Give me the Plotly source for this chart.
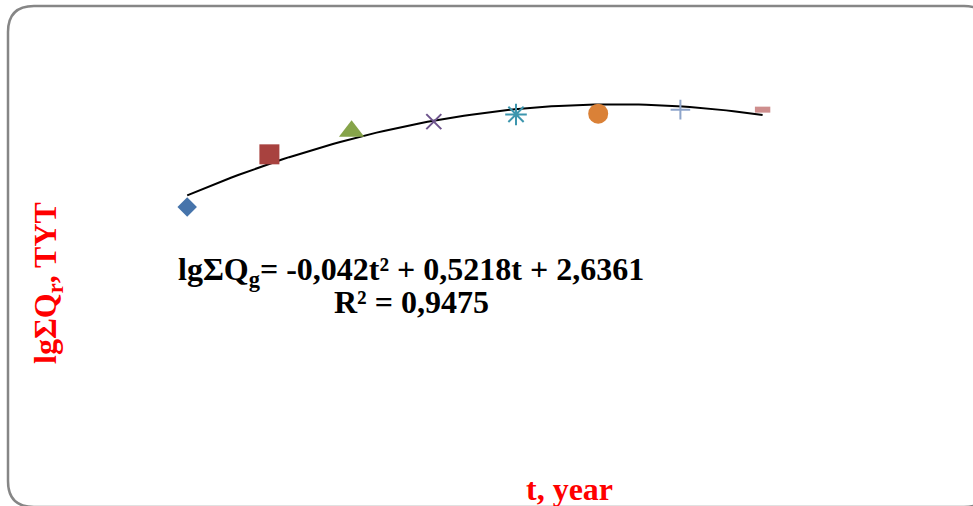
import plotly.graph_objects as go

# Data
t_years = [1, 2, 3, 4, 5, 6, 7, 8]
lg_q = [2.97, 3.63, 3.92, 4.04, 4.13, 4.14, 4.19, 4.19]
symbols = ["diamond", "square", "triangle-up", "x-thin-open", "asterisk-open",
           "circle", "cross-thin-open", "line-ew-open"]
colors = ["#4674AB", "#A8423F", "#86A44A", "#6E548D", "#3D96AE",
          "#DA8137", "#8EA5CB", "#CE8E8D"]
sizes = [15, 20, 22, 15, 18, 20, 14, 11]
line_widths = [0, 0, 0, 2, 2, 0, 2, 6]

# Polynomial trendline coefficients (as displayed)
a2, a1, a0 = -0.042, 0.5218, 2.6361
r2 = 0.9475

fig = go.Figure()

n = 80
tt = [t_years[0] + (t_years[-1] - t_years[0]) * i / (n - 1) for i in range(n)]
yy = [a2 * x * x + a1 * x + a0 for x in tt]
fig.add_trace(go.Scatter(x=tt, y=yy, mode="lines",
                         line=dict(color="black", width=2), hoverinfo="skip",
                         showlegend=False))

for t, v, s, c, sz, lw in zip(t_years, lg_q, symbols, colors, sizes, line_widths):
    fig.add_trace(go.Scatter(
        x=[t], y=[v], mode="markers", showlegend=False,
        marker=dict(symbol=s, size=sz, color=c,
                    line=dict(color=c, width=lw)),
    ))

fig.update_xaxes(range=[0, 10], visible=False)
fig.update_yaxes(range=[0, 5], visible=False)

font_serif = "Liberation Serif, Times New Roman, serif"

W, H = 973, 506
ml, mr, mt, mb = 105, 46, 45, 62

def px_to_paper(ax, ay):
    return (ax - ml) / (W - ml - mr), 1 - (ay - mt) / (H - mt - mb)

def add_text(px, py, text, size, color, angle=0):
    qx, qy = px_to_paper(px, py)
    fig.add_annotation(
        x=qx, y=qy, xref="paper", yref="paper", showarrow=False,
        xanchor="center", yanchor="middle", textangle=angle,
        text=text, font=dict(family=font_serif, size=size, color=color),
    )

add_text(411, 271, "<b>lgΣQ<sub>g</sub>= -0,042t² + 0,5218t + 2,6361</b>", 32, "black")
add_text(411, 302, f"<b>R² = {str(r2).replace('.', ',')}</b>", 32, "black")
add_text(47, 283, "<b>lgΣQ<sub>r</sub>, TYT</b>", 32, "red", angle=-90)
add_text(569, 489, "<b>t, year</b>", 32, "red")

# Rounded chart border
x0, y0, x1, y1, r = 8, 6, 990, 507, 26
path = (f"M {x0+r},{y0} L {x1-r},{y0} Q {x1},{y0} {x1},{y0+r} "
        f"L {x1},{y1-r} Q {x1},{y1} {x1-r},{y1} L {x0+r},{y1} "
        f"Q {x0},{y1} {x0},{y1-r} L {x0},{y0+r} Q {x0},{y0} {x0+r},{y0} Z")

def conv(p):
    out = []
    for tok in p.split():
        if "," in tok:
            a, b = tok.split(",")
            qx, qy = px_to_paper(float(a), float(b))
            out.append(f"{qx:.5f},{qy:.5f}")
        else:
            out.append(tok)
    return " ".join(out)

fig.add_shape(type="path", path=conv(path), xref="paper", yref="paper",
              line=dict(color="#868686", width=2.5), layer="below")

fig.update_layout(
    width=W, height=H,
    margin=dict(l=ml, r=mr, t=mt, b=mb),
    plot_bgcolor="white", paper_bgcolor="white",
    showlegend=False,
)

fig.write_html("out.html")
